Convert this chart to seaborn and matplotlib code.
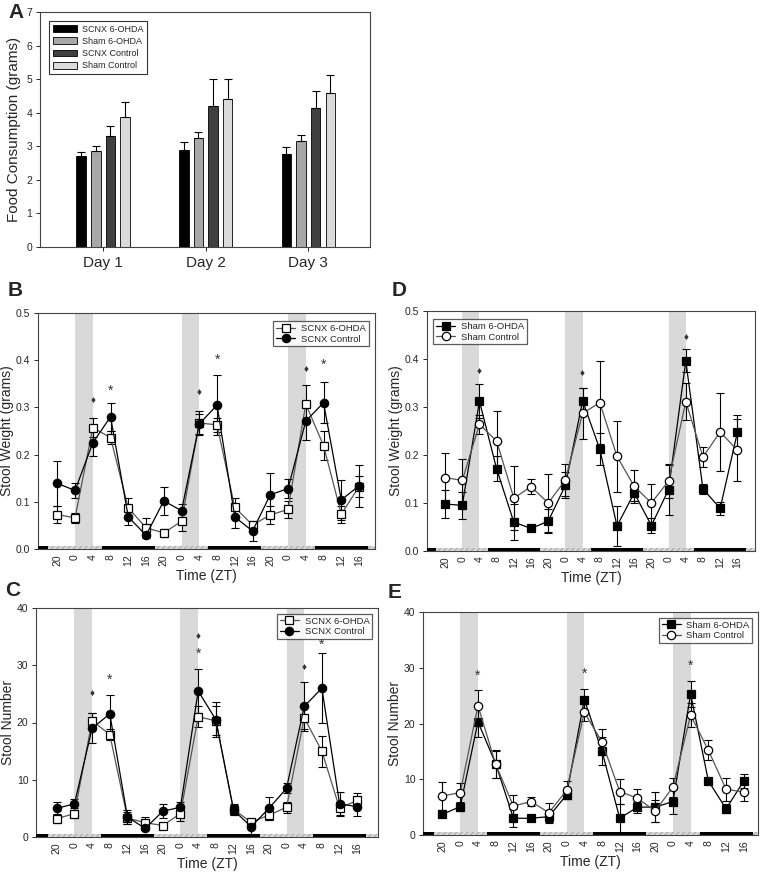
import numpy as np
import pandas as pd
import matplotlib
matplotlib.use('Agg')
import matplotlib.pyplot as plt
import matplotlib.transforms as mtransforms
from matplotlib.patches import Rectangle
import seaborn as sns

# ---------------- data ----------------
days = ['Day 1', 'Day 2', 'Day 3']
groups_a = ['SCNX 6-OHDA', 'Sham 6-OHDA', 'SCNX Control', 'Sham Control']
food_scnx_ohda = [2.70, 2.88, 2.78]
food_sham_ohda = [2.85, 3.25, 3.15]
food_scnx_ctrl = [3.30, 4.20, 4.15]
food_sham_ctrl = [3.87, 4.42, 4.58]
food_scnx_ohda_err = [0.12, 0.25, 0.20]
food_sham_ohda_err = [0.17, 0.18, 0.18]
food_scnx_ctrl_err = [0.30, 0.80, 0.50]
food_sham_ctrl_err = [0.46, 0.57, 0.54]

zt_pos = [-4, 0, 4, 8, 12, 16, 20, 24, 28, 32, 36, 40, 44, 48, 52, 56, 60, 64]
zt_labels = ['20', '0', '4', '8', '12', '16', '20', '0', '4', '8', '12', '16',
             '20', '0', '4', '8', '12', '16']

b_scnx_ohda = [0.073, 0.066, 0.257, 0.236, 0.087, 0.045, 0.034, 0.059, 0.267,
               0.263, 0.088, 0.051, 0.072, 0.084, 0.307, 0.219, 0.074, 0.132]
b_scnx_ohda_err = [0.018, 0.010, 0.020, 0.013, 0.020, 0.020, 0.008, 0.020, 0.025,
                   0.015, 0.020, 0.005, 0.020, 0.018, 0.040, 0.030, 0.018, 0.022]
b_scnx_ctrl = [0.139, 0.124, 0.225, 0.280, 0.068, 0.029, 0.102, 0.081, 0.265,
               0.305, 0.068, 0.038, 0.115, 0.128, 0.271, 0.310, 0.104, 0.134]
b_scnx_ctrl_err = [0.047, 0.015, 0.028, 0.030, 0.018, 0.006, 0.030, 0.015, 0.022,
                   0.063, 0.023, 0.022, 0.045, 0.020, 0.040, 0.043, 0.043, 0.045]

d_sham_ohda = [0.098, 0.095, 0.312, 0.171, 0.060, 0.047, 0.062, 0.137, 0.313,
               0.212, 0.052, 0.121, 0.053, 0.128, 0.396, 0.129, 0.089, 0.247]
d_sham_ohda_err = [0.030, 0.028, 0.035, 0.026, 0.038, 0.003, 0.025, 0.027, 0.027,
                   0.033, 0.041, 0.017, 0.015, 0.052, 0.024, 0.010, 0.013, 0.036]
d_sham_ctrl = [0.153, 0.147, 0.264, 0.229, 0.110, 0.134, 0.100, 0.148, 0.287,
               0.309, 0.197, 0.135, 0.100, 0.146, 0.311, 0.196, 0.248, 0.210]
d_sham_ctrl_err = [0.052, 0.045, 0.020, 0.063, 0.067, 0.016, 0.060, 0.034, 0.053,
                   0.087, 0.074, 0.034, 0.040, 0.035, 0.038, 0.021, 0.082, 0.065]

c_scnx_ohda = [3.2, 4.1, 20.3, 17.9, 3.3, 2.5, 2.0, 4.1, 21.0, 20.3, 4.8, 2.6,
               3.8, 5.2, 20.8, 15.0, 5.0, 6.4]
c_scnx_ohda_err = [0.8, 0.7, 1.3, 0.9, 1.0, 1.0, 0.3, 1.3, 1.8, 2.5, 1.0, 0.3,
                   0.8, 1.0, 2.0, 2.7, 1.2, 1.2]
c_scnx_ctrl = [5.0, 5.8, 19.0, 21.5, 3.5, 1.5, 4.5, 5.2, 25.5, 20.5, 4.7, 1.8,
               5.0, 8.5, 22.8, 26.0, 5.8, 5.3]
c_scnx_ctrl_err = [1.1, 0.8, 2.6, 3.3, 1.2, 0.3, 1.2, 1.0, 3.8, 3.0, 0.9, 1.2,
                   2.0, 0.9, 4.3, 6.1, 2.1, 1.6]

e_sham_ohda = [3.7, 5.1, 20.3, 12.8, 3.0, 3.0, 3.3, 7.2, 24.3, 15.0, 3.0, 5.0,
               5.0, 6.0, 25.3, 9.7, 4.7, 9.7]
e_sham_ohda_err = [0.5, 0.8, 2.8, 2.5, 1.6, 0.5, 1.0, 0.8, 1.8, 2.5, 2.6, 1.0,
                   2.7, 2.3, 2.4, 0.5, 0.8, 1.2]
e_sham_ctrl = [7.0, 7.6, 23.2, 12.7, 5.2, 6.0, 4.0, 8.0, 22.0, 16.7, 7.8, 6.6,
               4.3, 8.6, 21.5, 15.2, 8.2, 7.7]
e_sham_ctrl_err = [2.5, 1.8, 2.8, 2.4, 2.0, 0.8, 1.8, 1.6, 1.5, 2.3, 2.3, 1.6,
                   1.9, 1.7, 2.2, 1.8, 2.1, 1.6]

# shaded windows (ZT0-ZT4) and light/dark bar transitions
shade_windows = [(0, 4), (24, 28), (48, 52)]
ld_edges = [-6, 6, 18, 30, 42, 54, 66]

# significance marks: (symbol, x, y)
marks_b = [('♦', 4, 0.313), ('*', 8, 0.335), ('♦', 28, 0.330), ('*', 32, 0.400),
           ('♦', 52, 0.380), ('*', 56, 0.390)]
marks_d = [('♦', 4, 0.373), ('♦', 28, 0.368), ('♦', 52, 0.445)]
marks_c = [('♦', 4, 25.0), ('*', 8, 27.5), ('♦', 28, 35.0), ('*', 28, 32.0),
           ('♦', 52, 29.5), ('*', 56, 33.5)]
marks_e = [('*', 4, 28.5), ('*', 28, 29.0), ('*', 52, 30.3)]

# ---------------- style ----------------
sns.set_style('ticks')
plt.rcParams['font.family'] = ['Liberation Sans', 'DejaVu Sans']
plt.rcParams['hatch.linewidth'] = 0.6

fig = plt.figure(figsize=(7.63, 8.75), dpi=100)
W, H = 763.0, 875.0


def add_axes(l, t, r, b):
    return fig.add_axes([l / W, 1 - b / H, (r - l) / W, (b - t) / H])


def style_spines(ax):
    for s in ax.spines.values():
        s.set_visible(True)
        s.set_color('#444444')
        s.set_linewidth(0.8)


# ---------------- Panel A ----------------
axA = add_axes(40, 12, 370, 247)
dfA = pd.DataFrame({
    'day': days * 4,
    'group': [g for g in groups_a for _ in days],
    'val': food_scnx_ohda + food_sham_ohda + food_scnx_ctrl + food_sham_ctrl,
})
errsA = [food_scnx_ohda_err, food_sham_ohda_err, food_scnx_ctrl_err, food_sham_ctrl_err]
palA = ['#000000', '#a8a8a8', '#404040', '#dadada']
sns.barplot(data=dfA, x='day', y='val', hue='group', hue_order=groups_a,
            palette=palA, width=0.57, gap=0.35, edgecolor='black', linewidth=0.6,
            errorbar=None, ax=axA, saturation=1)
for cont, err in zip(axA.containers, errsA):
    xs = [p.get_x() + p.get_width() / 2 for p in cont]
    ys = [p.get_height() for p in cont]
    axA.errorbar(xs, ys, yerr=[np.zeros(len(err)), err], fmt='none', ecolor='black',
                 elinewidth=0.8, capsize=3, capthick=0.8, zorder=3)
axA.set_xlim(-0.615, 2.6)
axA.set_ylim(0, 7)
axA.set_yticks(range(0, 8))
axA.set_xlabel('')
axA.set_ylabel('Food Consumption (grams)', fontsize=11, labelpad=4)
axA.tick_params(axis='y', labelsize=7.5, length=3, width=0.7, pad=2.5)
axA.tick_params(axis='x', labelsize=11, length=3, width=0.7)
style_spines(axA)
legA = axA.legend(loc='upper left', bbox_to_anchor=(0.015, 0.98), fontsize=6.5,
                  frameon=True, fancybox=False, edgecolor='black',
                  handlelength=2.6, handleheight=0.8, labelspacing=0.35,
                  borderpad=0.4, handletextpad=0.6)
legA.get_frame().set_linewidth(0.8)
fig.text(8 / W, 1 - 12 / H, 'A', fontsize=15, fontweight='bold', va='center')


# ---------------- time panels ----------------
def time_panel(ax, series, ylim, yticks, yfmt, ylabel, xlim, legend_kw, marks):
    for a, b in shade_windows:
        ax.axvspan(a, b, color='#d9d9d9', lw=0, zorder=0)
    for vals, errs, lab, marker, mfc, lc in series:
        ax.errorbar(zt_pos, vals, yerr=errs, fmt='none', ecolor='black',
                    elinewidth=0.8, capsize=3, capthick=0.8, zorder=3)
        sns.lineplot(x=zt_pos, y=vals, ax=ax, color=lc, marker=marker, mfc=mfc,
                     mec='black', mew=0.9, ms=6, lw=0.9, label=lab, zorder=4)
    ax.set_xlim(*xlim)
    ax.set_ylim(*ylim)
    ax.set_yticks(yticks)
    ax.set_yticklabels([yfmt.format(v) for v in yticks])
    ax.set_xticks(zt_pos)
    ax.set_xticklabels(zt_labels, rotation=90)
    ax.tick_params(axis='y', labelsize=7.5, length=3, width=0.7, pad=2.5)
    ax.tick_params(axis='x', labelsize=7.5, length=0, pad=4)
    ax.set_xlabel('Time (ZT)', fontsize=10, labelpad=2)
    ax.set_ylabel(ylabel, fontsize=10, labelpad=1)
    style_spines(ax)
    # light/dark bar
    trans = mtransforms.blended_transform_factory(ax.transData, ax.transAxes)
    edges = [xlim[0]] + ld_edges + [xlim[1]]
    for i in range(len(edges) - 1):
        x0, x1 = edges[i], edges[i + 1]
        dark = (i % 2 == 0)
        ax.add_patch(Rectangle((x0, 0), x1 - x0, 0.014, transform=trans,
                               facecolor='black' if dark else '#d6d6d6',
                               edgecolor='none' if dark else '#9a9a9a',
                               hatch=None if dark else '//////', lw=0,
                               clip_on=False, zorder=5))
    for sym, x, y in marks:
        ax.text(x, y, sym, ha='center', va='center',
                fontsize=7 if sym == '♦' else 10, color='#333333', zorder=6)
    leg = ax.legend(fontsize=6.8, frameon=True, fancybox=False, edgecolor='#333333',
                    handlelength=2.0, labelspacing=0.15, borderpad=0.3,
                    handletextpad=0.6, **legend_kw)
    leg.get_frame().set_linewidth(0.9)


axB = add_axes(38, 313, 375, 549)
time_panel(axB,
           [(b_scnx_ohda, b_scnx_ohda_err, 'SCNX 6-OHDA', 's', 'white', '#555555'),
            (b_scnx_ctrl, b_scnx_ctrl_err, 'SCNX Control', 'o', 'black', 'black')],
           (0, 0.5), [0, 0.1, 0.2, 0.3, 0.4, 0.5], '{:.1f}', 'Stool Weight (grams)',
           (-8.35, 67.6), dict(loc='upper right', bbox_to_anchor=(0.995, 0.985)), marks_b)
fig.text(8 / W, 1 - 290 / H, 'B', fontsize=15, fontweight='bold', va='center')

axD = add_axes(427, 311, 755, 551)
time_panel(axD,
           [(d_sham_ohda, d_sham_ohda_err, 'Sham 6-OHDA', 's', 'black', 'black'),
            (d_sham_ctrl, d_sham_ctrl_err, 'Sham Control', 'o', 'white', '#555555')],
           (0, 0.5), [0, 0.1, 0.2, 0.3, 0.4, 0.5], '{:.1f}', 'Stool Weight (grams)',
           (-8.2, 68.1), dict(loc='upper left', bbox_to_anchor=(0.005, 0.985)), marks_d)
fig.text(392 / W, 1 - 290 / H, 'D', fontsize=15, fontweight='bold', va='center')

axC = add_axes(36, 608, 378, 837)
time_panel(axC,
           [(c_scnx_ohda, c_scnx_ohda_err, 'SCNX 6-OHDA', 's', 'white', '#555555'),
            (c_scnx_ctrl, c_scnx_ctrl_err, 'SCNX Control', 'o', 'black', 'black')],
           (0, 40), [0, 10, 20, 30, 40], '{:.0f}', 'Stool Number',
           (-8.7, 68.7), dict(loc='upper right', bbox_to_anchor=(0.997, 0.995)), marks_c)
fig.text(5 / W, 1 - 590 / H, 'C', fontsize=15, fontweight='bold', va='center')

axE = add_axes(423, 612, 758, 835)
time_panel(axE,
           [(e_sham_ohda, e_sham_ohda_err, 'Sham 6-OHDA', 's', 'black', 'black'),
            (e_sham_ctrl, e_sham_ctrl_err, 'Sham Control', 'o', 'white', '#555555')],
           (0, 40), [0, 10, 20, 30, 40], '{:.0f}', 'Stool Number',
           (-8.4, 67.2), dict(loc='upper right', bbox_to_anchor=(0.997, 0.995)), marks_e)
fig.text(388 / W, 1 - 592 / H, 'E', fontsize=15, fontweight='bold', va='center')

fig.savefig('out.png', dpi=100)
